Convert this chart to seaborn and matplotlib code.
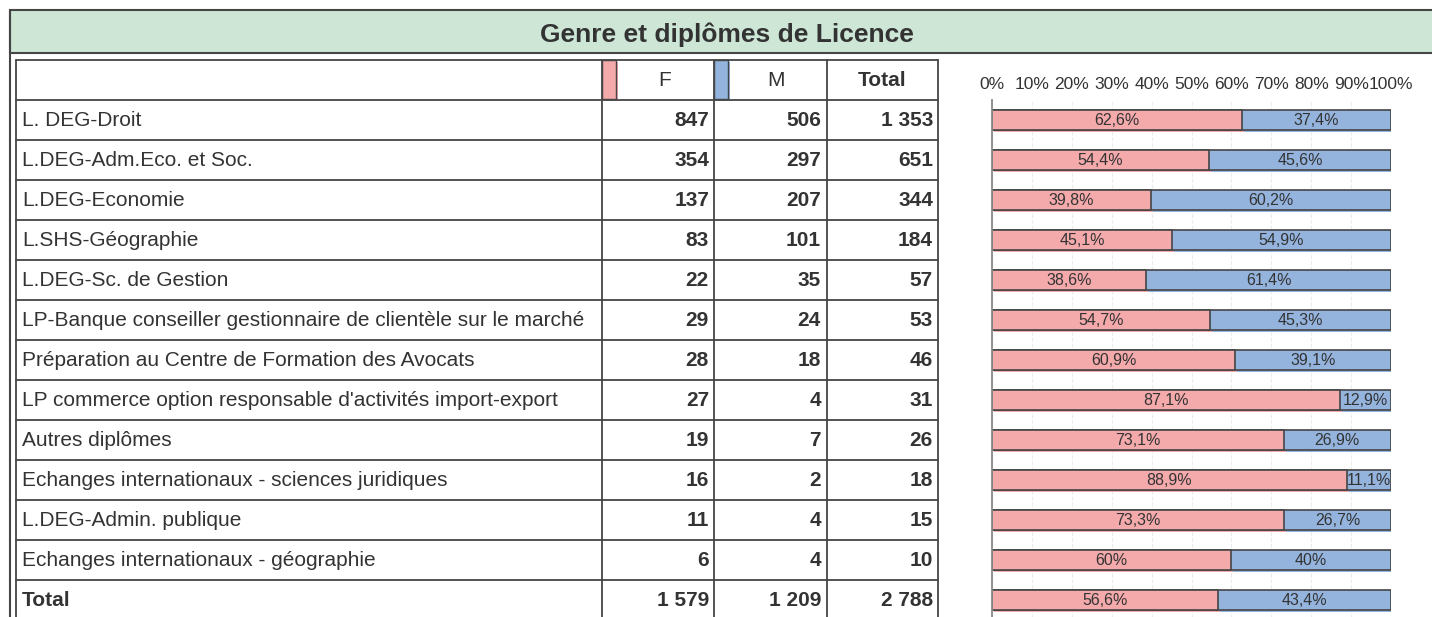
import matplotlib
matplotlib.use("Agg")
import matplotlib.pyplot as plt
import matplotlib.patches as mpatches
import matplotlib.transforms as mtransforms
import seaborn as sns
import pandas as pd

# --- données ---
diplomes = [
    "L. DEG-Droit",
    "L.DEG-Adm.Eco. et Soc.",
    "L.DEG-Economie",
    "L.SHS-Géographie",
    "L.DEG-Sc. de Gestion",
    "LP-Banque conseiller gestionnaire de clientèle sur le marché",
    "Préparation au Centre de Formation des Avocats",
    "LP commerce option responsable d'activités import-export",
    "Autres diplômes",
    "Echanges internationaux - sciences juridiques",
    "L.DEG-Admin. publique",
    "Echanges internationaux - géographie",
    "Total",
]
femmes = [847, 354, 137, 83, 22, 29, 28, 27, 19, 16, 11, 6, 1579]
hommes = [506, 297, 207, 101, 35, 24, 18, 4, 7, 2, 4, 4, 1209]
totaux = [1353, 651, 344, 184, 57, 53, 46, 31, 26, 18, 15, 10, 2788]
pct_f = [62.6, 54.4, 39.8, 45.1, 38.6, 54.7, 60.9, 87.1, 73.1, 88.9, 73.3, 60.0, 56.6]
pct_m = [37.4, 45.6, 60.2, 54.9, 61.4, 45.3, 39.1, 12.9, 26.9, 11.1, 26.7, 40.0, 43.4]
ticks_pct = [0, 10, 20, 30, 40, 50, 60, 70, 80, 90, 100]

ROSE = "#f4a9ab"
BLEU = "#94b4de"
TRAIT = "#454545"
TXT = "#333333"
VERT = "#cde6d6"

W, H = 1432, 617
sns.set_theme(style="white")
plt.rcParams['font.family'] = ['Liberation Sans', 'DejaVu Sans']

fig = plt.figure(figsize=(W / 100, H / 100), dpi=100)

# --- calque en pixels pour le tableau ---
bg = fig.add_axes([0, 0, 1, 1])
bg.set_xlim(0, W)
bg.set_ylim(H, 0)
bg.axis('off')

# bandeau titre
bg.add_patch(mpatches.Rectangle((10, 10), 1440, 43, facecolor=VERT, edgecolor=TRAIT, lw=1.5))
bg.plot([10, 10], [10, H], color=TRAIT, lw=1.5)
bg.text(727, 35, "Genre et diplômes de Licence", ha='center', va='center',
        fontsize=19, fontweight='bold', color=TXT)

# grille du tableau
x_cols = [16, 602, 714, 827, 938]
y0, hrow = 60, 40
n = len(diplomes)
y_end = y0 + hrow * (n + 1)
for x in x_cols:
    bg.plot([x, x], [y0, y_end], color=TRAIT, lw=1.3)
for i in range(n + 2):
    y = y0 + i * hrow
    bg.plot([x_cols[0], x_cols[-1]], [y, y], color=TRAIT, lw=1.3)

FS = 15
# en-tête avec pastilles de couleur
for xc, col in [(602, ROSE), (714, BLEU)]:
    bg.add_patch(mpatches.Rectangle((xc + 1.5, y0 + 1.5), 14, 39, facecolor=col, edgecolor='none'))
    bg.add_patch(mpatches.Rectangle((xc, y0), 14, 39, facecolor=col, edgecolor=TRAIT, lw=1))
hy = y0 + hrow / 2 + 1
bg.text(665, hy, "F", ha='center', va='center', fontsize=FS, color=TXT)
bg.text(776, hy, "M", ha='center', va='center', fontsize=FS, color=TXT)
bg.text(882, hy, "Total", ha='center', va='center', fontsize=FS, fontweight='bold', color=TXT)

def fmt(v):
    return f"{v:,}".replace(",", " ")

for i, lab in enumerate(diplomes):
    yc = y0 + hrow * (i + 1) + hrow / 2 + 1
    poids = 'bold' if lab == "Total" else 'normal'
    bg.text(22, yc, lab, ha='left', va='center', fontsize=FS, color=TXT, fontweight=poids)
    for xr, v in [(709, femmes[i]), (821, hommes[i]), (933, totaux[i])]:
        bg.text(xr, yc, fmt(v), ha='right', va='center', fontsize=FS,
                fontweight='bold', color=TXT)

# --- barres empilées 100 % ---
df = pd.DataFrame({"diplome": diplomes, "F": pct_f, "M": pct_m})
df["cumul"] = df["F"] + df["M"]

x0, x1 = 992, 1391
ytop, ybot = 100, 100 + hrow * n
ax = fig.add_axes([x0 / W, (H - ybot) / H, (x1 - x0) / W, (ybot - ytop) / H])

# ombres décalées
ombre = mtransforms.offset_copy(ax.transData, fig=fig, x=2, y=-2, units='dots')
sns.barplot(data=df, x="cumul", y="diplome", color=BLEU, saturation=1, width=0.5,
            edgecolor='none', ax=ax, orient='h')
sns.barplot(data=df, x="F", y="diplome", color=ROSE, saturation=1, width=0.5,
            edgecolor='none', ax=ax, orient='h')
for p in ax.patches:
    p.set_transform(ombre)
    p.set_zorder(1)
nb = len(ax.patches)

sns.barplot(data=df, x="cumul", y="diplome", color=BLEU, saturation=1, width=0.5,
            edgecolor=TRAIT, linewidth=1.2, ax=ax, orient='h')
sns.barplot(data=df, x="F", y="diplome", color=ROSE, saturation=1, width=0.5,
            edgecolor=TRAIT, linewidth=1.2, ax=ax, orient='h')
for p in ax.patches[nb:]:
    p.set_zorder(2)

def pct_txt(v):
    s = f"{v:.1f}".replace(".", ",")
    return s[:-2] + "%" if s.endswith(",0") else s + "%"

for i in range(n):
    ax.text(pct_f[i] / 2, i + 0.02, pct_txt(pct_f[i]), ha='center', va='center',
            fontsize=11.5, color=TXT, zorder=3)
    ax.text(pct_f[i] + pct_m[i] / 2, i + 0.02, pct_txt(pct_m[i]), ha='center', va='center',
            fontsize=11.5, color=TXT, zorder=3)

ax.set_xlim(0, 100)
ax.set_ylim(n - 0.5, -0.5)
ax.set_xticks(ticks_pct)
ax.set_xticklabels([f"{t}%" for t in ticks_pct], fontsize=12.5, color=TXT)
ax.xaxis.tick_top()
ax.tick_params(axis='x', length=0, pad=6)
ax.set_yticks([])
ax.set_xlabel("")
ax.set_ylabel("")
ax.grid(axis='x', color='#ececec', linestyle='--', lw=0.8, zorder=0)
ax.set_axisbelow(True)
for s in ['top', 'right', 'bottom']:
    ax.spines[s].set_visible(False)
ax.spines['left'].set_color('#888888')
ax.spines['left'].set_linewidth(1.3)
ax.patch.set_alpha(0)

fig.savefig("out.png", dpi=100)
